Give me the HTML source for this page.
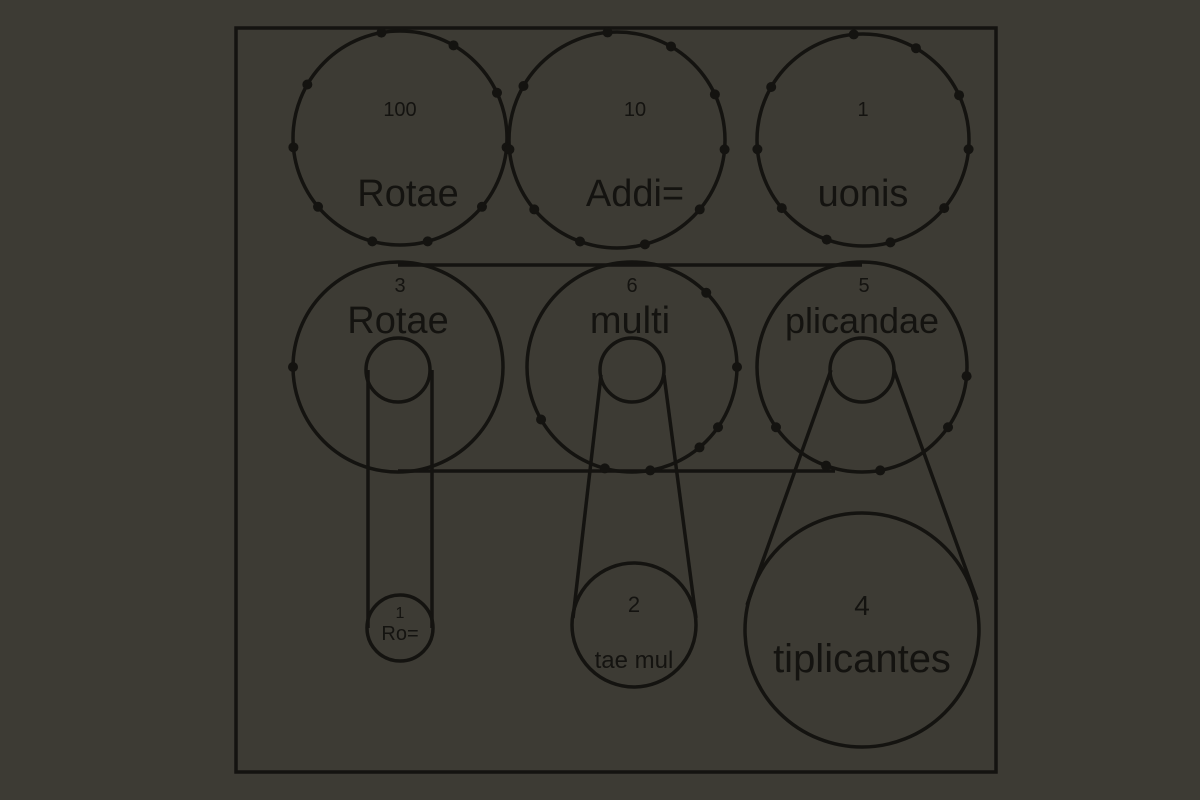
<!DOCTYPE html>
<html><head><meta charset="utf-8">
<style>
html,body{margin:0;padding:0;background:#3d3b34;}
svg{display:block}
text{font-family:"Liberation Sans",sans-serif;fill:#141310;text-anchor:middle}
</style></head>
<body>
<svg id="d" width="1200" height="800" viewBox="0 0 1200 800">
<rect x="0" y="0" width="1200" height="800" fill="#3d3b34"/>
<g fill="none" stroke="#141310" stroke-width="3.5" id="g">
<rect x="236" y="28" width="760" height="744"/>
<line x1="398" y1="265" x2="862" y2="265"/>
<line x1="398" y1="471" x2="835" y2="471"/>
<line x1="368" y1="370" x2="368" y2="628"/>
<line x1="432" y1="370" x2="432" y2="628"/>
<line x1="601" y1="375" x2="573" y2="618"/>
<line x1="664" y1="375" x2="696" y2="618"/>
<line x1="831" y1="370" x2="747" y2="605"/>
<line x1="894" y1="370" x2="977" y2="600"/>
</g>
<g id="texts">
<text x="400" y="116" font-size="20">100</text>
<text x="408" y="206" font-size="38">Rotae</text>
<text x="635" y="116" font-size="20">10</text>
<text x="635" y="206" font-size="38">Addi=</text>
<text x="863" y="116" font-size="20">1</text>
<text x="863" y="206" font-size="38">uonis</text>
<text x="400" y="292" font-size="20">3</text>
<text x="398" y="333" font-size="38">Rotae</text>
<text x="632" y="292" font-size="20">6</text>
<text x="630" y="333" font-size="38">multi</text>
<text x="864" y="292" font-size="20">5</text>
<text x="862" y="333" font-size="36">plicandae</text>
<text x="400" y="618" font-size="16">1</text>
<text x="400" y="640" font-size="20">Ro=</text>
<text x="634" y="612" font-size="22">2</text>
<text x="634" y="668" font-size="24">tae mul</text>
<text x="862" y="615" font-size="28">4</text>
<text x="862" y="672" font-size="40">tiplicantes</text>
</g>
</svg>
<script>
const wheelNames = ['wheel-100','wheel-10','wheel-1','wheel-3','wheel-6','wheel-5','inner-3','inner-6','inner-5','wheel-ro','wheel-tae-mul','wheel-tiplicantes'];
const wheelCx = [400,617,863,398,632,862,398,632,862,400,634,862];
const wheelCy = [138,140,140,367,367,367,370,370,370,628,625,630];
const wheelR = [107,108,106,105,105,105,32,32,32,33,62,117];
const dotAngles = [
 [-100,-60,-25,5,40,75,105,140,175,210],
 [-95,-60,-25,5,40,75,110,140,175,210],
 [-95,-60,-25,5,40,75,110,140,175,210],
 [180],
 [-45,0,35,50,80,105,150],
 [5,35,80,110,145],
 [],[],[],[],[],[]
];
const NS='http://www.w3.org/2000/svg';
const svg=document.getElementById('d');
const g=document.getElementById('g');
for(let i=0;i<wheelNames.length;i++){
  const c=document.createElementNS(NS,'circle');
  c.setAttribute('cx',wheelCx[i]);c.setAttribute('cy',wheelCy[i]);c.setAttribute('r',wheelR[i]);
  
  
  g.appendChild(c);
  for(const a of dotAngles[i]){
    const t=a*Math.PI/180;
    const d=document.createElementNS(NS,'circle');
    d.setAttribute('cx',wheelCx[i]+wheelR[i]*Math.cos(t));
    d.setAttribute('cy',wheelCy[i]+wheelR[i]*Math.sin(t));
    d.setAttribute('r',5);d.setAttribute('fill','#141310');d.setAttribute('stroke','none');
    
    
    svg.appendChild(d);
  }
}
</script>
</body></html>
